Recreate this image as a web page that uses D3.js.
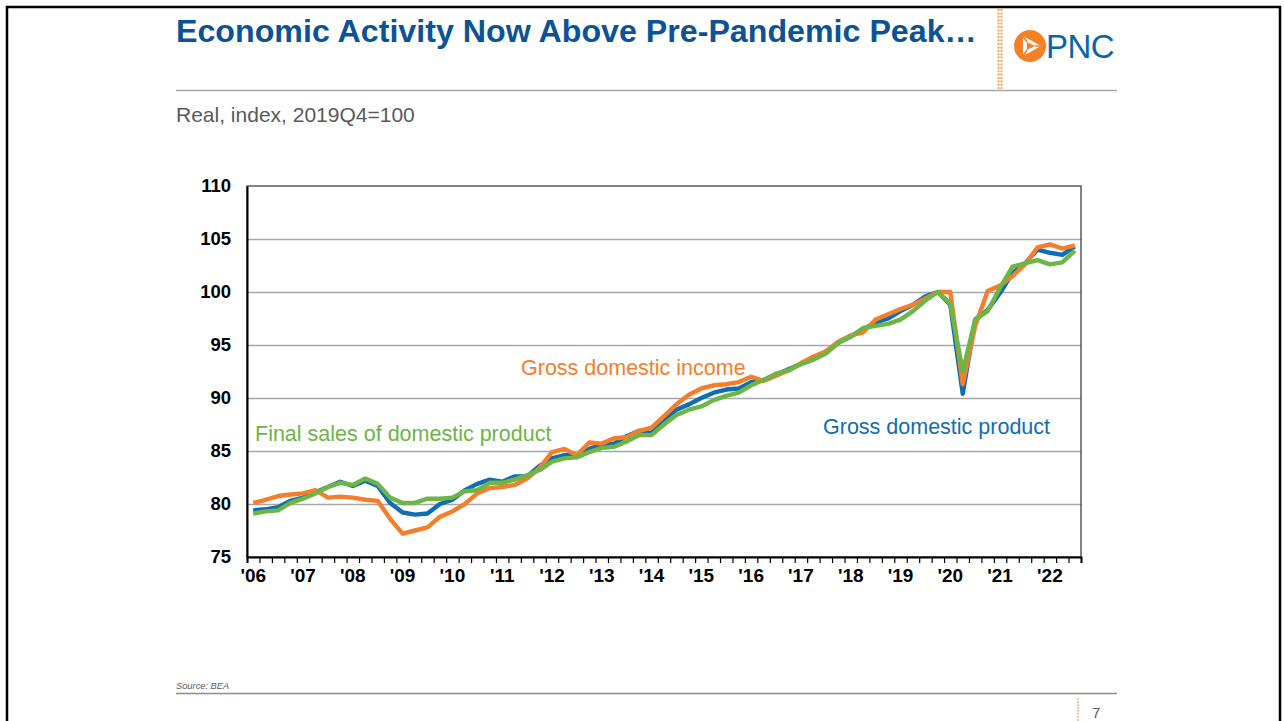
<!DOCTYPE html>
<html>
<head>
<meta charset="utf-8">
<script src="https://cdn.jsdelivr.net/npm/d3@7"></script>
<style>
  body { margin: 0; background: #fff; }
  svg { display: block; font-family: "Liberation Sans", Arial, sans-serif; }
</style>
</head>
<body>
<script>
// quarters 2006Q1 .. 2022Q3
var years = ["2006","2007","2008","2009","2010","2011","2012","2013","2014","2015","2016","2017","2018","2019","2020","2021","2022"];
var yTicks = [75, 80, 85, 90, 95, 100, 105, 110];

var gdp = [79.4, 79.5, 79.7, 80.3, 80.6, 81.1, 81.6, 82.1, 81.7, 82.2, 81.7, 80.1,
           79.2, 79.0, 79.1, 80.0, 80.4, 81.3, 81.9, 82.3, 82.1, 82.6, 82.6, 83.6,
           84.3, 84.6, 84.6, 85.2, 85.6, 85.7, 86.4, 86.9, 86.7, 88.0, 88.9, 89.4,
           90.0, 90.5, 90.8, 90.9, 91.5, 91.7, 92.2, 92.7, 93.2, 93.7, 94.3, 95.2,
           95.8, 96.5, 97.1, 97.5, 98.2, 98.8, 99.6, 100.0, 98.8, 90.4, 97.4, 98.3,
           99.9, 101.8, 102.7, 104.0, 103.7, 103.5, 104.3];

var gdi = [80.1, 80.4, 80.75, 80.9, 81.0, 81.3, 80.6, 80.7, 80.6, 80.4, 80.3, 78.6,
           77.2, 77.5, 77.8, 78.8, 79.3, 80.0, 81.0, 81.5, 81.6, 81.8, 82.4, 83.4,
           84.9, 85.2, 84.6, 85.8, 85.7, 86.2, 86.3, 86.9, 87.2, 88.3, 89.4, 90.3,
           90.9, 91.2, 91.3, 91.5, 92.0, 91.6, 92.1, 92.6, 93.3, 93.9, 94.4, 95.3,
           95.9, 96.2, 97.4, 97.9, 98.4, 98.8, 99.4, 100.0, 100.0, 91.3, 96.8, 100.1,
           100.6, 101.5, 102.6, 104.2, 104.5, 104.1, 104.4];

var finalSales = [79.1, 79.3, 79.4, 80.1, 80.5, 81.0, 81.6, 82.0, 81.8, 82.4, 81.9, 80.6,
                  80.1, 80.1, 80.5, 80.5, 80.6, 81.2, 81.3, 82.0, 82.0, 82.3, 82.7, 83.2,
                  84.0, 84.3, 84.4, 84.9, 85.3, 85.4, 85.9, 86.5, 86.5, 87.5, 88.4, 88.9,
                  89.2, 89.8, 90.2, 90.5, 91.2, 91.7, 92.3, 92.6, 93.2, 93.6, 94.2, 95.2,
                  95.8, 96.6, 96.8, 97.0, 97.4, 98.2, 99.2, 100.0, 98.9, 92.5, 97.4, 98.2,
                  100.4, 102.4, 102.7, 103.0, 102.6, 102.8, 103.9];

var quarters = [];
years.forEach(function (y) {
    ["Q1","Q2","Q3","Q4"].forEach(function (q) { quarters.push(y + q); });
});
quarters = quarters.slice(0, gdp.length);

var series = [
    { name: "Gross domestic product", values: gdp, color: "#0f6db3" },
    { name: "Gross domestic income", values: gdi, color: "#f47e2c" },
    { name: "Final sales of domestic product", values: finalSales, color: "#6db544" }
];

var width = 1284
  , height = 721
  , margin = { left: 247, top: 186, right: 1081, bottom: 557 }
  ;

var svg = d3.select("body").append("svg").attr("width", width).attr("height", height);

// slide frame
svg.append("rect")
    .attr("x", 7).attr("y", 7).attr("width", 1273).attr("height", 740)
    .attr("fill", "none").attr("stroke", "#000").attr("stroke-width", 2.5);

// title
svg.append("text")
    .attr("x", 176).attr("y", 42)
    .attr("font-size", 32.2).attr("font-weight", "bold").attr("fill", "#0b5394")
    .text("Economic Activity Now Above Pre-Pandemic Peak\u2026");

// dotted orange divider
[998.5, 1001.5].forEach(function (x) {
    svg.append("line")
        .attr("x1", x).attr("x2", x).attr("y1", 9).attr("y2", 89)
        .attr("stroke", "#f7a055").attr("stroke-width", 2)
        .attr("stroke-dasharray", "2,1.4");
});

// PNC logo
var logo = svg.append("g").attr("transform", "translate(1030,46)");
logo.append("circle").attr("r", 16).attr("fill", "#f58025");
logo.append("path").attr("d", "M-7,-10 L11,0 L-7,10 Z").attr("fill", "#fff");
logo.append("path").attr("d", "M-3,-4 L5,0 L-3,4 Z").attr("fill", "#f58025");
logo.append("line").attr("x1", -7).attr("y1", -10).attr("x2", -3).attr("y2", -4).attr("stroke", "#f58025").attr("stroke-width", 1.5);
logo.append("line").attr("x1", 11).attr("y1", 0).attr("x2", 5).attr("y2", 0).attr("stroke", "#f58025").attr("stroke-width", 1.5);
logo.append("line").attr("x1", -7).attr("y1", 10).attr("x2", -3).attr("y2", 4).attr("stroke", "#f58025").attr("stroke-width", 1.5);
svg.append("text")
    .attr("x", 1046).attr("y", 58)
    .attr("font-size", 33).attr("fill", "#0a64a8")
    .attr("letter-spacing", -0.5)
    .text("PNC");

// header rule
svg.append("line")
    .attr("x1", 176).attr("x2", 1117).attr("y1", 90.5).attr("y2", 90.5)
    .attr("stroke", "#a6a6a6").attr("stroke-width", 1.5);

svg.append("text")
    .attr("x", 176).attr("y", 122)
    .attr("font-size", 21).attr("fill", "#595959")
    .text("Real, index, 2019Q4=100");

// scales
var x = d3.scaleBand().domain(quarters).range([margin.left, margin.right]).paddingInner(0).paddingOuter(0);
var xEdge = d3.scaleLinear().domain([0, quarters.length]).range([margin.left, margin.right]);
var y = d3.scaleLinear().domain([75, 110]).range([margin.bottom, margin.top]);

// gridlines
svg.append("g")
    .attr("transform", "translate(" + margin.left + ",0)")
    .call(d3.axisLeft(y).tickValues(yTicks.slice(1, -1)).tickSize(-(margin.right - margin.left)).tickFormat(""))
    .call(function (g) { g.select(".domain").remove(); })
    .selectAll("line").attr("stroke", "#a6a6a6").attr("stroke-width", 1.3);

// plot frame
svg.append("rect")
    .attr("x", margin.left).attr("y", margin.top)
    .attr("width", margin.right - margin.left).attr("height", margin.bottom - margin.top)
    .attr("fill", "none").attr("stroke", "#404040").attr("stroke-width", 1.3);

// y axis
var yAxis = svg.append("g")
    .attr("transform", "translate(" + margin.left + ",0)")
    .call(d3.axisLeft(y).tickValues(yTicks).tickSize(0).tickPadding(16));
yAxis.select(".domain").attr("stroke", "#000").attr("stroke-width", 2);
yAxis.selectAll("text")
    .attr("font-family", "'Liberation Sans', Arial, sans-serif")
    .attr("font-size", 18.5).attr("font-weight", "bold").attr("fill", "#000");

// x axis: quarterly ticks on category edges
var xTicks = svg.append("g")
    .attr("transform", "translate(0," + margin.bottom + ")")
    .call(d3.axisBottom(xEdge).tickValues(d3.range(0, quarters.length + 1)).tickSize(6).tickFormat(""));
xTicks.select(".domain").attr("stroke", "#000").attr("stroke-width", 2);
xTicks.selectAll("line").attr("stroke", "#000").attr("stroke-width", 1.2);

// year labels at Q1 centres (band axis centres ticks itself)
var xLabels = svg.append("g")
    .attr("transform", "translate(0," + margin.bottom + ")")
    .call(d3.axisBottom(x)
        .tickValues(quarters.filter(function (q) { return q.slice(4) === "Q1"; }))
        .tickSize(0).tickPadding(12)
        .tickFormat(function (q) { return "'" + q.slice(2, 4); }));
xLabels.select(".domain").remove();
xLabels.selectAll("text")
    .attr("font-family", "'Liberation Sans', Arial, sans-serif")
    .attr("font-size", 19).attr("font-weight", "bold").attr("fill", "#000");

// lines
var line = d3.line()
    .x(function (d, i) { return x(quarters[i]) + x.bandwidth() / 2; })
    .y(function (d) { return y(d); });

series.forEach(function (s) {
    svg.append("path")
        .datum(s.values)
        .attr("fill", "none")
        .attr("stroke", s.color)
        .attr("stroke-width", 4.4)
        .attr("stroke-linejoin", "round")
        .attr("d", line);
});

// series labels
svg.append("text").attr("x", 521).attr("y", 375).attr("font-size", 21.5).attr("fill", series[1].color).text(series[1].name);
svg.append("text").attr("x", 255).attr("y", 441).attr("font-size", 21.5).attr("fill", series[2].color).text(series[2].name);
svg.append("text").attr("x", 823).attr("y", 434).attr("font-size", 21.5).attr("fill", series[0].color).text(series[0].name);

// footer
svg.append("text")
    .attr("x", 176).attr("y", 689)
    .attr("font-size", 9.3).attr("font-style", "italic").attr("fill", "#595959")
    .text("Source: BEA");
svg.append("line")
    .attr("x1", 176).attr("x2", 1117).attr("y1", 693.5).attr("y2", 693.5)
    .attr("stroke", "#8c8c8c").attr("stroke-width", 1.5);
svg.append("line")
    .attr("x1", 1078).attr("x2", 1078).attr("y1", 698).attr("y2", 721)
    .attr("stroke", "#fbc79c").attr("stroke-width", 2).attr("stroke-dasharray", "2,1");
svg.append("text")
    .attr("x", 1092).attr("y", 718)
    .attr("font-size", 15).attr("fill", "#595959")
    .text("7");
</script>
</body>
</html>
